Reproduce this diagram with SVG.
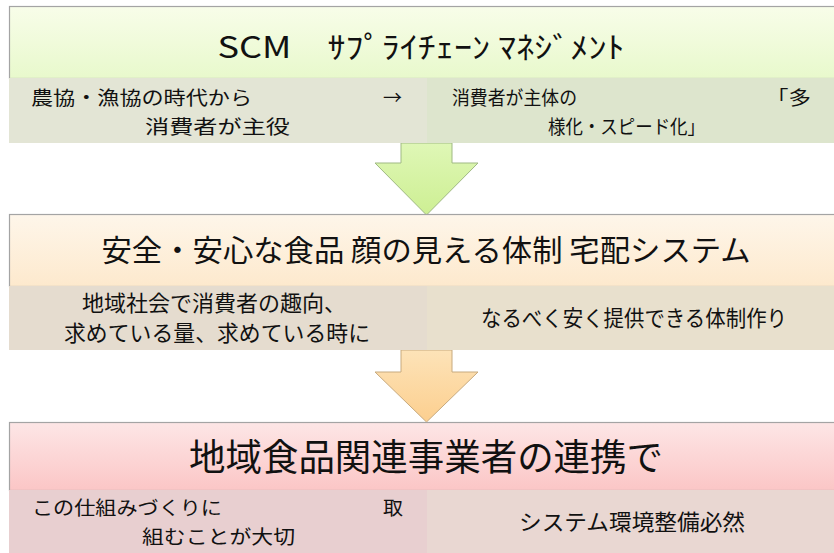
<svg xmlns="http://www.w3.org/2000/svg" width="834" height="553" viewBox="0 0 834 553">
<defs>
<linearGradient id="g1" x1="0" y1="0" x2="0" y2="1"><stop offset="0" stop-color="#f8fde9"/><stop offset="1" stop-color="#e8f9cc"/></linearGradient>
<linearGradient id="g2" x1="0" y1="0" x2="0" y2="1"><stop offset="0" stop-color="#fef6ea"/><stop offset="1" stop-color="#fde9cd"/></linearGradient>
<linearGradient id="g3" x1="0" y1="0" x2="0" y2="1"><stop offset="0" stop-color="#fde6e6"/><stop offset="1" stop-color="#fbc6c6"/></linearGradient>
<linearGradient id="a1" x1="0" y1="0" x2="0" y2="1"><stop offset="0" stop-color="#dff7b6"/><stop offset="1" stop-color="#cdef93"/></linearGradient>
<linearGradient id="a2" x1="0" y1="0" x2="0" y2="1"><stop offset="0" stop-color="#fde3b8"/><stop offset="1" stop-color="#fccf8f"/></linearGradient>
</defs>
<style>
text{font-family:"Noto Sans CJK JP","Liberation Sans",sans-serif;fill:#111;}
.ttl{font-size:30px;text-anchor:middle;}
.sub{font-size:22px;}
.sm{font-size:19px;}
.band{stroke:#a4a4a4;stroke-width:1.2;}
</style>
<rect width="834" height="553" fill="#ffffff"/>
<g id="connectors">
<path d="M401,143 H452 V163 H478 L426.5,215 L375,163 H401 Z" fill="url(#a1)" stroke="#9fb983" stroke-width="1"/>
<path d="M401,350 H452 V372 H478 L426.5,422 L375,372 H401 Z" fill="url(#a2)" stroke="#c7aa7e" stroke-width="1"/>
</g>
<g id="node1">
<rect x="9.5" y="6.5" width="830" height="72" fill="url(#g1)" class="band"/>
<rect x="9" y="78" width="418" height="65" fill="#e3e5d5"/>
<rect x="427" y="78" width="407" height="65" fill="#dde5cd"/>
<text class="ttl" x="421" y="58" textLength="407" lengthAdjust="spacingAndGlyphs">SCM　ｻﾌﾟﾗｲﾁｪｰﾝ ﾏﾈｼﾞﾒﾝﾄ</text>
<text class="sm" x="31" y="105" textLength="221" lengthAdjust="spacingAndGlyphs">農協・漁協の時代から</text>
<text class="sm" x="383" y="105">→</text>
<text class="sm" x="145" y="134" textLength="145" lengthAdjust="spacingAndGlyphs">消費者が主役</text>
<text class="sm" x="452" y="105" textLength="125" lengthAdjust="spacingAndGlyphs">消費者が主体の</text>
<text class="sm" x="766" y="105" textLength="45" lengthAdjust="spacingAndGlyphs">「多</text>
<text class="sm" x="548" y="134" textLength="157" lengthAdjust="spacingAndGlyphs">様化・スピード化」</text>
</g>
<g id="node2">
<rect x="9.5" y="214.5" width="830" height="72" fill="url(#g2)" class="band"/>
<rect x="9" y="286" width="418" height="64" fill="#e5dccf"/>
<rect x="427" y="286" width="407" height="64" fill="#e8e0cd"/>
<text class="ttl" x="426" y="261" textLength="649" lengthAdjust="spacingAndGlyphs">安全・安心な食品 顔の見える体制 宅配システム</text>
<text class="sub" x="82" y="311" textLength="264" lengthAdjust="spacingAndGlyphs">地域社会で消費者の趣向、</text>
<text class="sub" x="64" y="341" textLength="306" lengthAdjust="spacingAndGlyphs">求めている量、求めている時に</text>
<text class="sub" x="481" y="326" textLength="306" lengthAdjust="spacingAndGlyphs">なるべく安く提供できる体制作り</text>
</g>
<g id="node3">
<rect x="9.5" y="422.5" width="830" height="68" fill="url(#g3)" class="band"/>
<rect x="9" y="490" width="418" height="63" fill="#e8cfd0"/>
<rect x="427" y="490" width="407" height="63" fill="#e9d7d2"/>
<text class="ttl" x="426" y="471" style="font-size:37px" textLength="474" lengthAdjust="spacingAndGlyphs">地域食品関連事業者の連携で</text>
<text class="sm" x="32" y="515" textLength="190" lengthAdjust="spacingAndGlyphs">この仕組みづくりに</text>
<text class="sm" x="383" y="515" textLength="20" lengthAdjust="spacingAndGlyphs">取</text>
<text class="sm" x="142" y="544" textLength="153" lengthAdjust="spacingAndGlyphs">組むことが大切</text>
<text class="sub" x="519" y="530" textLength="226" lengthAdjust="spacingAndGlyphs">システム環境整備必然</text>
</g>
</svg>
